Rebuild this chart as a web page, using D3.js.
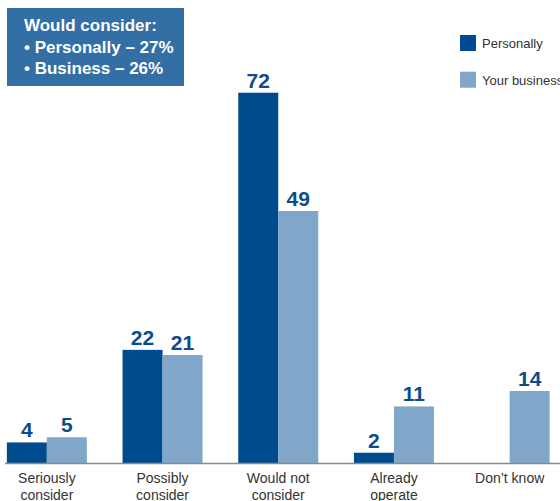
<!DOCTYPE html>
<html>
<head>
<meta charset="utf-8">
<script src="https://cdn.jsdelivr.net/npm/d3@7/dist/d3.min.js"></script>
<style>
  html, body { margin: 0; padding: 0; background: #fff; }
  svg { display: block; font-family: "Liberation Sans", Arial, Helvetica, sans-serif; }
</style>
</head>
<body>
<svg id="chart" width="560" height="501"></svg>
<script>
// Survey answers, in percent
const categories = [["Seriously", "consider"], ["Possibly", "consider"], ["Would not", "consider"], ["Already", "operate"], ["Don\u2019t know"]];
const seriesNames = ["Personally", "Your business"];
const personally = [4, 22, 72, 2, 0];
const business = [5, 21, 49, 11, 14];
const summaryLines = ["Would consider:", "\u2022 Personally \u2013 27%", "\u2022 Business \u2013 26%"];

const colors = ["#004b8d", "#80a6c9"];
const svg = d3.select("#chart");

const keys = categories.map(c => c.join(" "));
const baseline = 463;
const x = d3.scaleBand().domain(keys).range([-11, 567.5]).paddingInner(0).paddingOuter(0);
const barW = 40;
const y = d3.scaleLinear().domain([0, 72]).range([baseline, 92.7]);

const rows = [];
keys.forEach((k, i) => {
  [personally[i], business[i]].forEach((v, s) => rows.push({ key: k, s, v }));
});

const barX = d => x(k2(d)) + x.bandwidth() / 2 + (d.s === 0 ? -barW : 0);
function k2(d) { return d.key; }

// Bars
svg.append("g").selectAll("rect")
  .data(rows.filter(d => d.v > 0))
  .join("rect")
  .attr("x", barX)
  .attr("y", d => y(d.v))
  .attr("width", barW)
  .attr("height", d => baseline - y(d.v))
  .attr("fill", d => colors[d.s]);

// Value labels
svg.append("g").selectAll("text")
  .data(rows.filter(d => d.v > 0))
  .join("text")
  .attr("x", d => barX(d) + barW / 2)
  .attr("y", d => y(d.v) - 5)
  .attr("text-anchor", "middle")
  .attr("font-size", 21)
  .attr("font-weight", "bold")
  .attr("fill", "#0d4c8c")
  .text(d => d.v);

// Category axis
const axis = svg.append("g").attr("transform", `translate(0,${baseline})`)
  .call(d3.axisBottom(x).tickSize(0).tickFormat(() => ""));
axis.select(".domain").attr("d", "M5,0.5H560").attr("stroke", "#8a8a8a").attr("stroke-width", 1.5);
axis.selectAll(".tick").each(function (k, i) {
  const t = d3.select(this).append("text")
    .attr("text-anchor", "middle")
    .attr("fill", "#333")
    .attr("font-size", 14)
    .attr("font-family", "Liberation Sans, Arial, sans-serif");
  categories[i].forEach((line, j) => {
    t.append("tspan").attr("x", 0).attr("y", 20 + j * 17).text(line);
  });
});

// Summary box
const box = svg.append("g");
box.append("rect").attr("x", 7).attr("y", 8).attr("width", 177).attr("height", 78).attr("fill", "#336ea5");
box.selectAll("text").data(summaryLines).join("text")
  .attr("x", 24)
  .attr("y", (d, i) => 31 + i * 21.5)
  .attr("fill", "#fff")
  .attr("font-size", 17)
  .attr("font-weight", "bold")
  .text(d => d);

// Legend
const legend = svg.append("g").selectAll("g").data(seriesNames).join("g")
  .attr("transform", (d, i) => `translate(460,${35 + i * 36.7})`);
legend.append("rect").attr("width", 16).attr("height", 16).attr("fill", (d, i) => colors[i]);
legend.append("text").attr("x", 22).attr("y", 13).attr("font-size", 13).attr("fill", "#333").text(d => d);
</script>
</body>
</html>
